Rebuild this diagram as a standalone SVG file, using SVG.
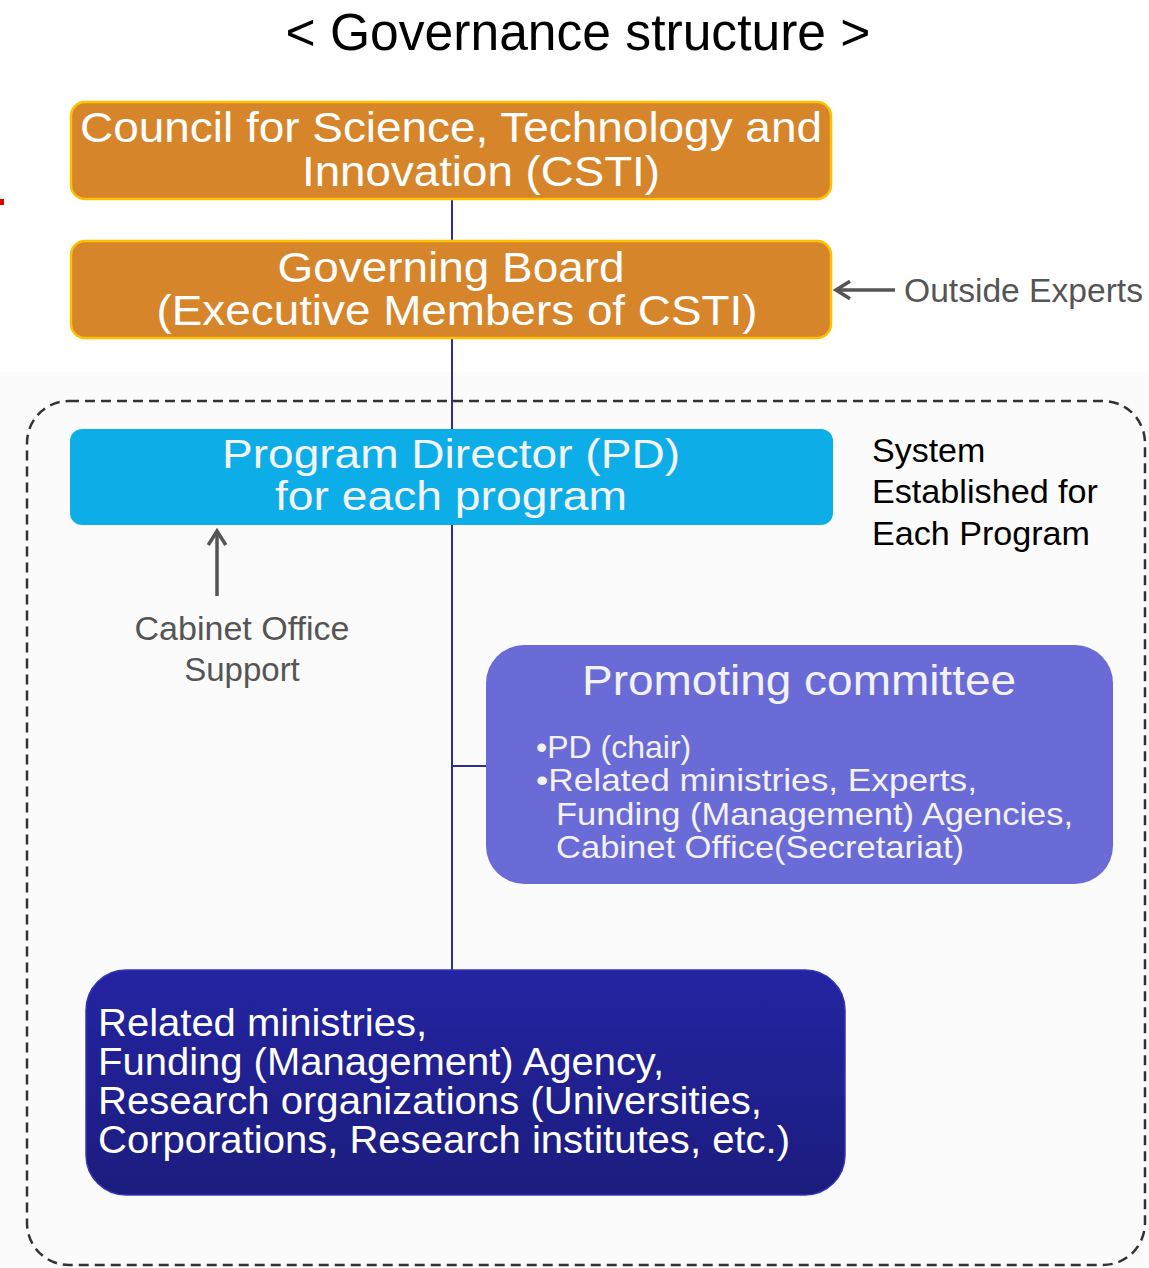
<svg xmlns="http://www.w3.org/2000/svg" width="1149" height="1268" viewBox="0 0 1149 1268">
<defs>
<style>
.t{font-family:"Liberation Sans Narrow","Liberation Sans",Arial,sans-serif;}
.a{font-family:"Liberation Sans",Arial,sans-serif;}
.w{fill:#ffffff;}
.g{fill:#555555;}
.orange{fill:#D7852A;stroke:#FFC000;stroke-width:2.5;}
.conn{stroke:#2E2E8E;stroke-width:2;fill:none;}
.garrow{stroke:#555555;stroke-width:3.5;fill:none;marker-end:url(#chev);}
</style>
<marker id="chev" viewBox="0 0 12 12" refX="10" refY="6" markerWidth="6" markerHeight="6" orient="auto" markerUnits="strokeWidth">
<path d="M2,1 L10,6 L2,11" fill="none" stroke="#555555" stroke-width="2"/>
</marker>
<linearGradient id="navy" x1="0" y1="0" x2="0" y2="1">
<stop offset="0" stop-color="#2424A2"/>
<stop offset="1" stop-color="#1C1C7E"/>
</linearGradient>
</defs>
<rect x="0" y="0" width="1149" height="1268" fill="#ffffff"/>
<rect x="0" y="372" width="1149" height="896" fill="#FBFBFB"/>
<rect x="0" y="199" width="4" height="6" fill="#E00000"/>

<text class="a" x="578" y="50" font-size="51" text-anchor="middle" fill="#000" textLength="585" lengthAdjust="spacingAndGlyphs">&lt; Governance structure &gt;</text>

<g id="connectors">
<line class="conn" x1="452" y1="199" x2="452" y2="242"/>
<line class="conn" x1="452" y1="338" x2="452" y2="971"/>
<line class="conn" x1="452" y1="766" x2="487" y2="766"/>
<line class="garrow" x1="895" y1="290" x2="836" y2="290"/>
<line class="garrow" x1="217" y1="596" x2="217" y2="531"/>
</g>

<g id="frame">
<rect x="27" y="401" width="1118" height="864" rx="42" fill="none" stroke="#333" stroke-width="2.5" stroke-dasharray="10 6"/>
</g>

<g id="csti">
<rect class="orange" x="71" y="102" width="760" height="97" rx="14"/>
<text class="t w" x="451" y="142" font-size="43" text-anchor="middle" textLength="742" lengthAdjust="spacingAndGlyphs">Council for Science, Technology and</text>
<text class="t w" x="481" y="186" font-size="43" text-anchor="middle" textLength="358" lengthAdjust="spacingAndGlyphs">Innovation (CSTI)</text>
</g>

<g id="board">
<rect class="orange" x="71" y="241" width="760" height="97" rx="14"/>
<text class="t w" x="451" y="282" font-size="42" text-anchor="middle" textLength="347" lengthAdjust="spacingAndGlyphs">Governing Board</text>
<text class="t w" x="457" y="325" font-size="42" text-anchor="middle" textLength="601" lengthAdjust="spacingAndGlyphs">(Executive Members of CSTI)</text>
</g>

<g id="outside-experts">
<text class="t g" x="904" y="302" font-size="34" textLength="239" lengthAdjust="spacingAndGlyphs">Outside Experts</text>
</g>

<g id="pd">
<rect x="70" y="429" width="763" height="96" rx="12" fill="#0DAEE8"/>
<text class="a" x="451" y="468" font-size="41" text-anchor="middle" fill="#F4F4F4" textLength="458" lengthAdjust="spacingAndGlyphs">Program Director (PD)</text>
<text class="a" x="451" y="510" font-size="41" text-anchor="middle" fill="#F4F4F4" textLength="352" lengthAdjust="spacingAndGlyphs">for each program</text>
</g>

<g id="system-note">
<text class="a" x="872" y="462" font-size="34" fill="#000">System</text>
<text class="a" x="872" y="503" font-size="34" fill="#000" textLength="226" lengthAdjust="spacingAndGlyphs">Established for</text>
<text class="a" x="872" y="545" font-size="34" fill="#000" textLength="218" lengthAdjust="spacingAndGlyphs">Each Program</text>
</g>

<g id="cabinet-support">
<text class="a g" x="242" y="640" font-size="33" text-anchor="middle" textLength="215" lengthAdjust="spacingAndGlyphs">Cabinet Office</text>
<text class="a g" x="242" y="681" font-size="33" text-anchor="middle">Support</text>
</g>

<g id="committee">
<rect x="486" y="645" width="627" height="239" rx="38" fill="#6B6BD7"/>
<text class="a" x="799" y="695" font-size="42" text-anchor="middle" fill="#F2F2F2" textLength="434" lengthAdjust="spacingAndGlyphs">Promoting committee</text>
<text class="a" x="536" y="758" font-size="32" fill="#F2F2F2">•PD (chair)</text>
<text class="a" x="536" y="791" font-size="32" fill="#F2F2F2" textLength="441" lengthAdjust="spacingAndGlyphs">•Related ministries, Experts,</text>
<text class="a" x="556" y="825" font-size="32" fill="#F2F2F2" textLength="517" lengthAdjust="spacingAndGlyphs">Funding (Management) Agencies,</text>
<text class="a" x="556" y="858" font-size="32" fill="#F2F2F2" textLength="408" lengthAdjust="spacingAndGlyphs">Cabinet Office(Secretariat)</text>
</g>

<g id="organizations">
<rect x="86" y="970" width="759" height="225" rx="40" fill="url(#navy)" stroke="#3535B8" stroke-width="1.5"/>
<text class="t w" x="98" y="1036" font-size="38" textLength="329" lengthAdjust="spacingAndGlyphs">Related ministries,</text>
<text class="t w" x="98" y="1075" font-size="38" textLength="566" lengthAdjust="spacingAndGlyphs">Funding (Management) Agency,</text>
<text class="t w" x="98" y="1114" font-size="38" textLength="664" lengthAdjust="spacingAndGlyphs">Research organizations (Universities,</text>
<text class="t w" x="98" y="1153" font-size="38" textLength="692" lengthAdjust="spacingAndGlyphs">Corporations, Research institutes, etc.)</text>
</g>
</svg>
